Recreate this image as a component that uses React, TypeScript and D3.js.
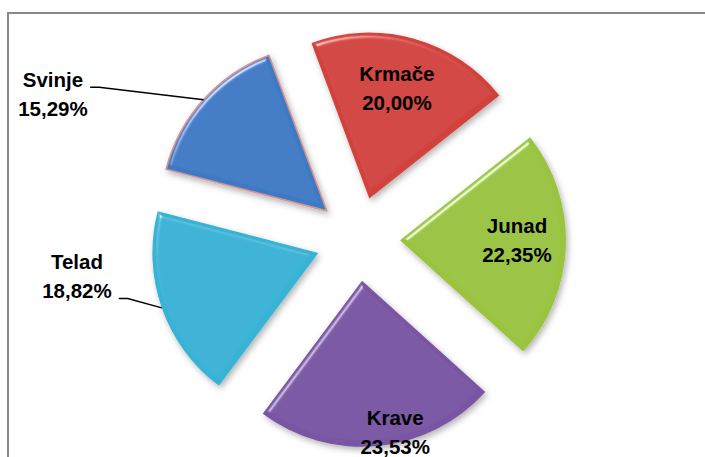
import React, { useEffect, useRef } from "react";
import * as d3 from "d3";

// ---- data ----
const categories = ["Krmače", "Junad", "Krave", "Telad", "Svinje"];
const counts = [17, 19, 20, 16, 13];
const percentLabels = ["20,00%", "22,35%", "23,53%", "18,82%", "15,29%"];
const sliceColors = ["#D1433E", "#9AC33F", "#7955A3", "#38B2D5", "#3C7AC5"];
const sliceStrokes = ["none", "none", "none", "none", "#D9928F"];
// label placement relative to pie centre: radius (px) and angle (deg, clockwise from 12 o'clock)
const labelRadius = [155.5, 159, 196.5, 283.5, 337.7];
const labelAngle = [14.5, 90.5, 169.1, 262.4, 295.4];
const labelLeader = [false, false, false, "line2", "line1"];

const W = 705;
const H = 457;
const CX = 358;
const CY = 239;
const R = 166;
const EXPLODE = 42;
const START_DEG = -20.4;
const FONT = "'Liberation Sans', Arial, sans-serif";
const FONT_SIZE = 20.5;

export default function App() {
  const ref = useRef<SVGSVGElement>(null);

  useEffect(() => {
    const svg = d3.select(ref.current);
    svg.selectAll("*").remove();

    const defs = svg.append("defs");
    const f = defs
      .append("filter")
      .attr("id", "bevel")
      .attr("x", "-20%")
      .attr("y", "-20%")
      .attr("width", "140%")
      .attr("height", "140%");
    f.append("feGaussianBlur").attr("in", "SourceAlpha").attr("stdDeviation", 2.5).attr("result", "blur");
    const spec = f
      .append("feSpecularLighting")
      .attr("in", "blur")
      .attr("surfaceScale", 4)
      .attr("specularConstant", 0.6)
      .attr("specularExponent", 40)
      .attr("lighting-color", "#ffffff")
      .attr("result", "spec");
    spec.append("feDistantLight").attr("azimuth", 235).attr("elevation", 40);
    f.append("feComposite").attr("in", "spec").attr("in2", "SourceAlpha").attr("operator", "in").attr("result", "specIn");
    f.append("feComposite")
      .attr("in", "SourceGraphic")
      .attr("in2", "specIn")
      .attr("operator", "arithmetic")
      .attr("k1", 0)
      .attr("k2", 1)
      .attr("k3", 1)
      .attr("k4", 0)
      .attr("result", "lit");
    f.append("feGaussianBlur").attr("in", "SourceAlpha").attr("stdDeviation", 3).attr("result", "sblur");
    f.append("feOffset").attr("in", "sblur").attr("dx", 2).attr("dy", 3).attr("result", "soff");
    f.append("feFlood").attr("flood-color", "#000").attr("flood-opacity", 0.3).attr("result", "flood");
    f.append("feComposite").attr("in", "flood").attr("in2", "soff").attr("operator", "in").attr("result", "shadow");
    const merge = f.append("feMerge");
    merge.append("feMergeNode").attr("in", "shadow");
    merge.append("feMergeNode").attr("in", "lit");

    svg.append("rect").attr("width", W).attr("height", H).attr("fill", "#ffffff");

    // chart frame (top and left visible)
    svg
      .append("path")
      .attr("d", `M8,${H} L8,13 L${W},13`)
      .attr("fill", "none")
      .attr("stroke", "#888888")
      .attr("stroke-width", 2);

    const toRad = (d: number) => (d * Math.PI) / 180;
    const pie = d3
      .pie<number>()
      .sort(null)
      .value((d) => d)
      .startAngle(toRad(START_DEG))
      .endAngle(toRad(START_DEG + 360));
    const arcs = pie(counts);
    const arc = d3.arc<d3.PieArcDatum<number>>().innerRadius(0).outerRadius(R);

    const g = svg.append("g").attr("transform", `translate(${CX},${CY})`);

    arcs.forEach((a, i) => {
      const mid = (a.startAngle + a.endAngle) / 2;
      const ox = EXPLODE * Math.sin(mid);
      const oy = -EXPLODE * Math.cos(mid);
      g.append("path")
        .attr("d", arc(a) as string)
        .attr("transform", `translate(${ox},${oy})`)
        .attr("fill", sliceColors[i])
        .attr("stroke", sliceStrokes[i])
        .attr("stroke-width", sliceStrokes[i] === "none" ? 0 : 1.6)
        .attr("stroke-linejoin", "round")
        .attr("filter", "url(#bevel)");
    });

    // labels
    arcs.forEach((a, i) => {
      const ang = toRad(labelAngle[i]);
      const lx = CX + labelRadius[i] * Math.sin(ang);
      const ly = CY - labelRadius[i] * Math.cos(ang);
      const t = svg
        .append("text")
        .attr("text-anchor", "middle")
        .attr("font-family", FONT)
        .attr("font-weight", "bold")
        .attr("font-size", FONT_SIZE)
        .attr("fill", "#000000");
      const l1 = t.append("tspan").attr("x", lx).attr("y", ly - 7).text(categories[i]);
      const l2 = t.append("tspan").attr("x", lx).attr("y", ly + 22).text(percentLabels[i]);

      const lead = labelLeader[i];
      if (lead) {
        const node = (lead === "line1" ? l1 : l2).node() as SVGTSpanElement;
        const w = node.getComputedTextLength();
        const by = lead === "line1" ? ly - 7 : ly + 22;
        const x0 = lx + w / 2 + 7;
        const x1 = x0 + 9;
        const mid = (a.startAngle + a.endAngle) / 2;
        const px = CX + (EXPLODE + R) * Math.sin(mid);
        const py = CY - (EXPLODE + R) * Math.cos(mid);
        svg
          .append("path")
          .attr("d", `M${x0},${by} L${x1},${by} L${px},${py}`)
          .attr("fill", "none")
          .attr("stroke", "#000000")
          .attr("stroke-width", 1.5);
      }
    });
  }, []);

  return (
    <div style={{ position: "absolute", left: 0, top: 0, width: W, height: H, overflow: "hidden" }}>
      <svg ref={ref} width={W} height={H} style={{ display: "block" }} />
    </div>
  );
}
